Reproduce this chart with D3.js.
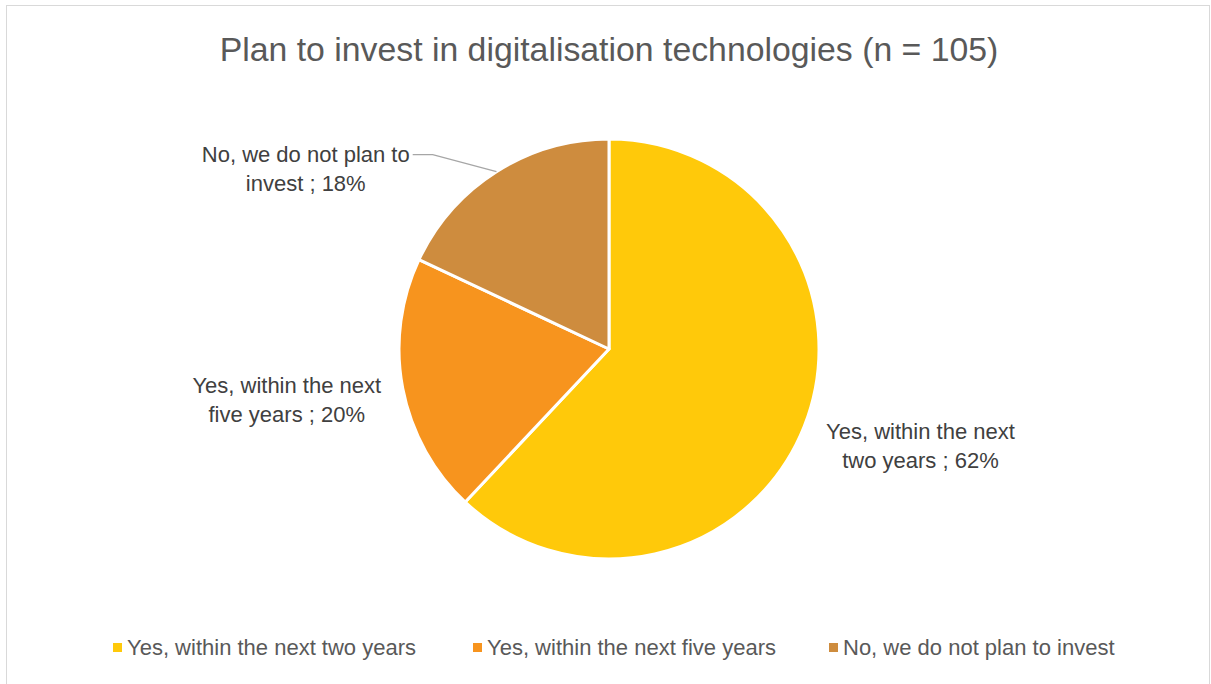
<!DOCTYPE html>
<html>
<head>
<meta charset="utf-8">
<script src="https://cdn.jsdelivr.net/npm/d3@7"></script>
<style>
  body { margin: 0; background: #fff; }
  text { font-family: "Liberation Sans", Arial, sans-serif; }
</style>
</head>
<body>
<div id="chart"></div>
<script>
var categories = ["Yes, within the next two years", "Yes, within the next five years", "No, we do not plan to invest"];
var shares = [62, 20, 18];
var colours = ["#FFC90A", "#F7941E", "#CE8C3E"];
var labelLines = [
  ["Yes, within the next", "two years ; 62%"],
  ["Yes, within the next", "five years ; 20%"],
  ["No, we do not plan to", "invest ; 18%"]
];

var width = 1211, height = 684,
    cx = 609, cy = 349, radius = 210;

var svg = d3.select("#chart").append("svg")
    .attr("width", width)
    .attr("height", height);

// chart frame
svg.append("rect")
    .attr("x", 6.5).attr("y", 5.5)
    .attr("width", 1203).attr("height", 690)
    .attr("fill", "#fff")
    .attr("stroke", "#d9d9d9");

svg.append("text")
    .attr("x", 609).attr("y", 61)
    .attr("text-anchor", "middle")
    .attr("fill", "#595959")
    .style("font-size", "33.8px")
    .text("Plan to invest in digitalisation technologies (n = 105)");

var pie = d3.pie().sort(null).value(function(d) { return d; });
var arcs = pie(shares);

var arc = d3.arc().innerRadius(0).outerRadius(radius);

var g = svg.append("g").attr("transform", "translate(" + cx + "," + cy + ")");

g.selectAll("path.slice")
    .data(arcs)
  .enter().append("path")
    .attr("class", "slice")
    .attr("d", arc)
    .attr("fill", function(d, i) { return colours[i]; })
    .attr("stroke", "#fff")
    .attr("stroke-width", 3)
    .attr("stroke-linejoin", "round");

// label placement: angle shift and radius from centre (first-line baseline)
var labelShift = [0, 0, -0.5];
var labelRadius = [335, 325, 358];
var nudge = [[0, -33], [-3, -17], [10, -14]];

arcs.forEach(function(d, i) {
  var mid = (d.startAngle + d.endAngle) / 2;
  var a = mid + labelShift[i];
  var lx = Math.sin(a) * labelRadius[i] + nudge[i][0];
  var ly = -Math.cos(a) * labelRadius[i] + nudge[i][1];
  var t = g.append("text")
      .attr("text-anchor", "middle")
      .attr("fill", "#404040")
      .style("font-size", "22px");
  labelLines[i].forEach(function(line, j) {
    t.append("tspan")
        .attr("x", lx)
        .attr("y", ly + j * 29)
        .text(line);
  });
  if (i === 2) {
    var w = t.select("tspan").node().getComputedTextLength();
    var sx = lx + w / 2 + 3, sy = ly - 7;
    g.append("path")
        .attr("d", "M" + sx + "," + sy +
                   "L" + (sx + 20) + "," + sy +
                   "L" + (Math.sin(mid) * radius) + "," + (-Math.cos(mid) * radius))
        .attr("fill", "none")
        .attr("stroke", "#a6a6a6")
        .attr("stroke-width", 1.3);
  }
});

// legend
var legendX = [113, 473, 829];
var legend = svg.append("g");
categories.forEach(function(c, i) {
  legend.append("rect")
      .attr("x", legendX[i]).attr("y", 643)
      .attr("width", 9).attr("height", 9)
      .attr("fill", colours[i]);
  legend.append("text")
      .attr("x", legendX[i] + 14).attr("y", 655)
      .attr("fill", "#595959")
      .style("font-size", "22px")
      .text(c);
});
</script>
</body>
</html>
